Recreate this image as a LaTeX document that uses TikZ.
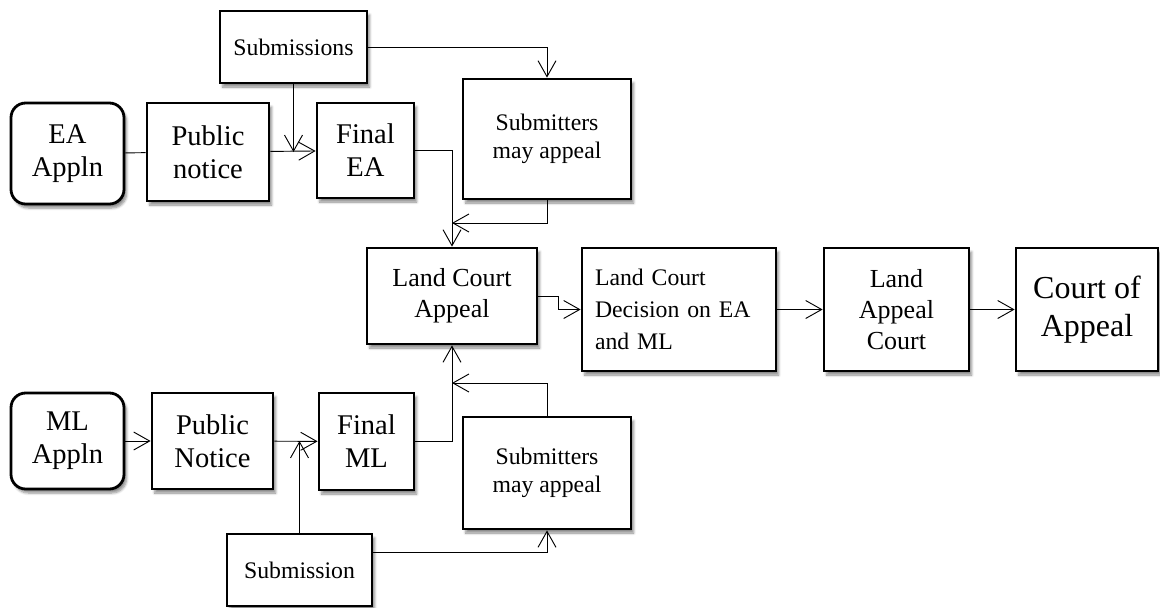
\documentclass[tikz,border=0pt]{standalone}
\usepackage{fontspec}
\setmainfont{Liberation Serif}
\usetikzlibrary{arrows.meta,shadows.blur}

\tikzset{
	box/.style={draw, line width=2.1pt, fill=white, align=center, inner sep=1pt,
		blur shadow={shadow xshift=2pt, shadow yshift=-3pt, shadow blur steps=6, shadow opacity=45}},
	rbox/.style={box, rounded corners=11pt},
	boxsize/.style 2 args={minimum width=#1*0.75pt, minimum height=#2*0.75pt},
	arr/.style={-{Straight Barb[length=12pt,width=13.5pt]}, line width=0.7pt},
	link/.style={line width=0.7pt},
	big/.style={font=\fontsize{21.4}{24.8}\selectfont},
	mid/.style={font=\fontsize{19.5}{23}\selectfont},
	small/.style={font=\fontsize{17.8}{21}\selectfont},
	huge/.style={font=\fontsize{24}{28.8}\selectfont}
}

\begin{document}
\begin{tikzpicture}[x=0.75pt, y=-0.75pt]
	\useasboundingbox (0,0) rectangle (1160,607);

	\node[rbox, big, boxsize={113}{101}] (eaappln) at (67.5,153.5) {EA\\Appln};
	\node[box, big, boxsize={122}{98}] (eanotice) at (208,152) {Public\\notice};
	\node[box, big, boxsize={97}{95}] (eafinal) at (365.5,150.5) {Final\\EA};
	\node[box, small, boxsize={147}{72}] (easubs) at (293.5,47) {Submissions};
	\node[box, small, boxsize={168}{120}] (eaappeal) at (547,139) {Submitters\\may appeal};

	\node[box, mid, boxsize={170}{96}] (lcappeal) at (452,296) {Land Court\\Appeal};
	\node[box, align=left, text width=126pt, inner xsep=9.75pt, minimum height=123*0.75pt,
		font=\fontsize{17.8}{24}\selectfont] (lcdecision) at (679,309.5) {Land Court\\Decision on EA\\and ML};
	\node[box, mid, boxsize={145}{123}] (lacourt) at (896.5,309.5) {Land\\Appeal\\Court};
	\node[box, huge, boxsize={142}{123}] (coappeal) at (1087,309.5) {Court of\\Appeal};

	\node[rbox, big, boxsize={113}{96}] (mlappln) at (67.5,441) {ML\\Appln};
	\node[box, big, boxsize={121}{96}] (mlnotice) at (212.5,441) {Public\\Notice};
	\node[box, big, boxsize={95}{97}] (mlfinal) at (366.5,441.5) {Final\\ML};
	\node[box, small, boxsize={145}{72}] (mlsubs) at (299.5,570) {Submission};
	\node[box, small, boxsize={168}{112}] (mlappeal) at (547,473) {Submitters\\may appeal};

	\coordinate (eajoin) at (easubs.south |- eanotice.east);
	\coordinate (eain) at (452,223);
	\coordinate (mljoin) at (mlsubs.north |- mlnotice.east);
	\coordinate (mlin) at (452,383);

	\draw[link] (eaappln) -- (eanotice);
	\draw[arr] (eanotice) -- (eafinal);
	\draw[arr] (easubs.south) -- (eajoin);
	\draw[arr] (easubs.east) -| (eaappeal.north);
	\draw[arr] (eafinal.east) -| (lcappeal.north);
	\draw[arr] (eaappeal.south) |- (eain);

	\draw[arr] (lcappeal.east) -| ([xshift=-16.5pt]lcdecision.west) -- (lcdecision.west);
	\draw[arr] (lcdecision) -- (lacourt);
	\draw[arr] (lacourt) -- (coappeal);

	\draw[arr] (mlappln) -- (mlnotice);
	\draw[arr] (mlnotice) -- (mlfinal);
	\draw[arr] (mlsubs.north) -- (mljoin);
	\draw[arr] ([yshift=13.5pt]mlsubs.east) -| (mlappeal.south);
	\draw[arr] (mlfinal.east) -| (lcappeal.south);
	\draw[arr] (mlappeal.north) |- (mlin);
\end{tikzpicture}
\end{document}
